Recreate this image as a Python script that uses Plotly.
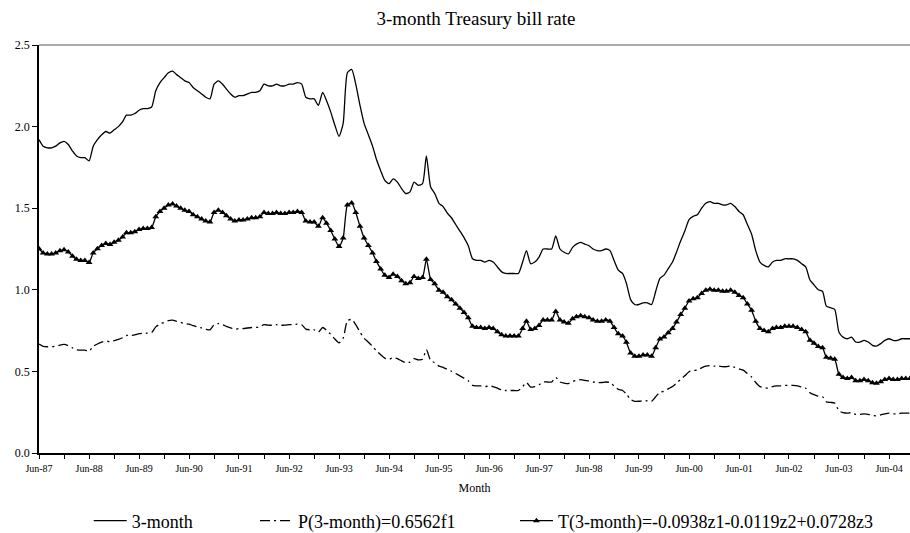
import pandas as pd
import plotly.graph_objects as go

# Monthly observations starting June 1987
start_month = "1987-06-01"

rate_3m = [
    1.92, 1.88, 1.87, 1.87, 1.88, 1.90, 1.91, 1.89, 1.85, 1.82, 1.81, 1.81,
    1.79, 1.88, 1.92, 1.95, 1.97, 1.96, 1.98, 2.00, 2.03, 2.07, 2.07, 2.08,
    2.10, 2.11, 2.11, 2.12, 2.22, 2.27, 2.30, 2.33, 2.34, 2.32, 2.30, 2.28,
    2.27, 2.24, 2.22, 2.20, 2.18, 2.17, 2.26, 2.28, 2.26, 2.23, 2.20, 2.18,
    2.19, 2.19, 2.20, 2.21, 2.21, 2.22, 2.26, 2.25, 2.25, 2.26, 2.25, 2.25,
    2.26, 2.26, 2.27, 2.26, 2.18, 2.17, 2.17, 2.13, 2.21, 2.16, 2.09, 2.01,
    1.94, 2.02, 2.33, 2.35, 2.26, 2.13, 2.02, 1.95, 1.88, 1.80, 1.73, 1.67,
    1.65, 1.68, 1.66, 1.62, 1.59, 1.60, 1.66, 1.64, 1.65, 1.82, 1.63, 1.59,
    1.53, 1.51, 1.47, 1.44, 1.40, 1.36, 1.32, 1.27, 1.19, 1.18, 1.18, 1.17,
    1.18, 1.17, 1.14, 1.11, 1.10, 1.10, 1.10, 1.10, 1.17, 1.24, 1.16, 1.17,
    1.20, 1.25, 1.25, 1.25, 1.33, 1.25, 1.23, 1.22, 1.26, 1.28, 1.29, 1.28,
    1.27, 1.25, 1.24, 1.24, 1.25, 1.24, 1.18, 1.12, 1.10, 1.04, 0.94, 0.91,
    0.91, 0.92, 0.92, 0.91, 0.99, 1.07, 1.09, 1.13, 1.17, 1.23, 1.30, 1.36,
    1.43, 1.45, 1.46, 1.50, 1.53, 1.54, 1.53, 1.53, 1.52, 1.52, 1.53, 1.51,
    1.48, 1.46, 1.40, 1.34, 1.24, 1.17, 1.15, 1.14, 1.17, 1.18, 1.18, 1.19,
    1.19, 1.19, 1.18, 1.16, 1.14, 1.06, 1.03, 1.00, 0.99, 0.90, 0.89, 0.88,
    0.74, 0.71, 0.70, 0.71, 0.68, 0.68, 0.69, 0.68, 0.66, 0.655, 0.67, 0.69,
    0.70, 0.69, 0.69, 0.70, 0.70, 0.70,
]

p_component = [
    0.668, 0.654, 0.651, 0.651, 0.654, 0.661, 0.665, 0.658, 0.644, 0.633, 0.630, 0.630,
    0.623, 0.654, 0.668, 0.679, 0.686, 0.682, 0.689, 0.696, 0.706, 0.720, 0.720, 0.724,
    0.731, 0.734, 0.734, 0.738, 0.773, 0.790, 0.800, 0.811, 0.814, 0.807, 0.800, 0.793,
    0.790, 0.780, 0.773, 0.766, 0.759, 0.755, 0.786, 0.793, 0.786, 0.776, 0.766, 0.759,
    0.762, 0.762, 0.766, 0.769, 0.769, 0.773, 0.786, 0.783, 0.783, 0.786, 0.783, 0.783,
    0.786, 0.786, 0.790, 0.786, 0.759, 0.755, 0.755, 0.741, 0.769, 0.752, 0.727, 0.699,
    0.675, 0.703, 0.811, 0.818, 0.786, 0.741, 0.703, 0.679, 0.654, 0.626, 0.602, 0.581,
    0.574, 0.585, 0.578, 0.564, 0.553, 0.557, 0.578, 0.571, 0.574, 0.633, 0.567, 0.553,
    0.532, 0.525, 0.512, 0.501, 0.487, 0.473, 0.459, 0.442, 0.414, 0.411, 0.411, 0.407,
    0.411, 0.407, 0.397, 0.386, 0.383, 0.383, 0.383, 0.383, 0.407, 0.432, 0.404, 0.407,
    0.418, 0.435, 0.435, 0.435, 0.463, 0.435, 0.428, 0.425, 0.438, 0.445, 0.449, 0.445,
    0.442, 0.435, 0.432, 0.432, 0.435, 0.432, 0.411, 0.390, 0.383, 0.362, 0.327, 0.317,
    0.317, 0.320, 0.320, 0.317, 0.345, 0.372, 0.379, 0.393, 0.407, 0.428, 0.452, 0.473,
    0.498, 0.505, 0.508, 0.522, 0.532, 0.536, 0.532, 0.532, 0.529, 0.529, 0.532, 0.525,
    0.515, 0.508, 0.487, 0.466, 0.432, 0.407, 0.400, 0.397, 0.407, 0.411, 0.411, 0.414,
    0.414, 0.414, 0.411, 0.404, 0.397, 0.369, 0.358, 0.348, 0.345, 0.313, 0.310, 0.306,
    0.258, 0.247, 0.244, 0.247, 0.237, 0.237, 0.240, 0.237, 0.230, 0.228, 0.233, 0.240,
    0.244, 0.240, 0.240, 0.244, 0.244, 0.244,
]

t_component = [
    1.252, 1.226, 1.219, 1.219, 1.226, 1.239, 1.245, 1.232, 1.206, 1.187, 1.180, 1.180,
    1.167, 1.226, 1.252, 1.271, 1.284, 1.278, 1.291, 1.304, 1.324, 1.350, 1.350, 1.356,
    1.369, 1.376, 1.376, 1.382, 1.447, 1.480, 1.500, 1.519, 1.526, 1.513, 1.500, 1.487,
    1.480, 1.460, 1.447, 1.434, 1.421, 1.415, 1.474, 1.487, 1.474, 1.454, 1.434, 1.421,
    1.428, 1.428, 1.434, 1.441, 1.441, 1.447, 1.474, 1.467, 1.467, 1.474, 1.467, 1.467,
    1.474, 1.474, 1.480, 1.474, 1.421, 1.415, 1.415, 1.389, 1.441, 1.408, 1.363, 1.311,
    1.265, 1.317, 1.519, 1.532, 1.474, 1.389, 1.317, 1.271, 1.226, 1.174, 1.128, 1.089,
    1.076, 1.095, 1.082, 1.056, 1.037, 1.043, 1.082, 1.069, 1.076, 1.187, 1.063, 1.037,
    0.998, 0.985, 0.958, 0.939, 0.913, 0.887, 0.861, 0.828, 0.776, 0.769, 0.769, 0.763,
    0.769, 0.763, 0.743, 0.724, 0.717, 0.717, 0.717, 0.717, 0.763, 0.808, 0.756, 0.763,
    0.782, 0.815, 0.815, 0.815, 0.867, 0.815, 0.802, 0.795, 0.822, 0.835, 0.841, 0.835,
    0.828, 0.815, 0.808, 0.808, 0.815, 0.808, 0.769, 0.730, 0.717, 0.678, 0.613, 0.593,
    0.593, 0.600, 0.600, 0.593, 0.645, 0.698, 0.711, 0.737, 0.763, 0.802, 0.848, 0.887,
    0.932, 0.945, 0.952, 0.978, 0.998, 1.004, 0.998, 0.998, 0.991, 0.991, 0.998, 0.985,
    0.965, 0.952, 0.913, 0.874, 0.808, 0.763, 0.750, 0.743, 0.763, 0.769, 0.769, 0.776,
    0.776, 0.776, 0.769, 0.756, 0.743, 0.691, 0.672, 0.652, 0.645, 0.587, 0.580, 0.574,
    0.482, 0.463, 0.456, 0.463, 0.443, 0.443, 0.450, 0.443, 0.430, 0.427, 0.437, 0.450,
    0.456, 0.450, 0.450, 0.456, 0.456, 0.456,
]

series_names = [
    "3-month",
    "P(3-month)=0.6562f1",
    "T(3-month)=-0.0938z1-0.0119z2+0.0728z3",
]

y_ticks = [0.0, 0.5, 1.0, 1.5, 2.0, 2.5]

months = pd.date_range(start_month, periods=len(rate_3m), freq="MS")

# Ticks every six months; only the June ticks carry a label
tick_dates = [d for d in months if d.month in (6, 12)]
tick_text = [d.strftime("%b-%y") if d.month == 6 else "" for d in tick_dates]

SERIF = "Liberation Serif, Times New Roman, serif"

fig = go.Figure()

fig.add_trace(go.Scatter(
    x=months, y=rate_3m, name=series_names[0], mode="lines",
    line=dict(color="black", width=1.3, shape="spline", smoothing=0.6),
    legend="legend", showlegend=True,
))
fig.add_trace(go.Scatter(
    x=months, y=p_component, name=series_names[1], mode="lines",
    line=dict(color="black", width=1.3, shape="spline", smoothing=0.6,
              dash="10px,4px,2px,4px"),
    legend="legend2", showlegend=True,
))
fig.add_trace(go.Scatter(
    x=months, y=t_component, name=series_names[2], mode="lines+markers",
    line=dict(color="black", width=1.3, shape="spline", smoothing=0.6),
    marker=dict(symbol="triangle-up", size=6, color="black"),
    legend="legend3", showlegend=True,
))

# Legends are placed in container coordinates so they don't push the plot margins
legend_common = dict(
    orientation="h", yanchor="middle", xanchor="left",
    xref="container", yref="container", y=0.0225,
    font=dict(family=SERIF, size=18, color="black"),
    bgcolor="rgba(0,0,0,0)", itemwidth=33, borderwidth=0,
)

fig.update_layout(
    width=910, height=533,
    margin=dict(l=39, r=0, t=45, b=80, autoexpand=False),
    paper_bgcolor="white", plot_bgcolor="white",
    showlegend=True,
    title=dict(text="3-month Treasury bill rate", x=0.523, xanchor="center",
               y=0.966, yanchor="middle",
               font=dict(family=SERIF, size=19, color="black")),
    legend=dict(legend_common, x=0.0975),
    legend2=dict(legend_common, x=0.2802),
    legend3=dict(legend_common, x=0.5659),
    xaxis=dict(
        range=[months[0], months[-1]],
        tickmode="array", tickvals=tick_dates, ticktext=tick_text,
        ticks="outside", ticklen=4, tickcolor="black", tickwidth=1,
        ticklabelstandoff=1, automargin=False,
        showline=True, linecolor="black", linewidth=1.5,
        showgrid=False, zeroline=False,
        tickfont=dict(family=SERIF, size=10, color="black"),
        title=dict(text="Month", font=dict(family=SERIF, size=12, color="black"),
                   standoff=11),
    ),
    yaxis=dict(
        range=[0, 2.5], tickmode="array", tickvals=y_ticks,
        tickformat=".1f", automargin=False,
        ticks="outside", ticklen=5, tickcolor="black", tickwidth=1,
        showline=True, linecolor="black", linewidth=1.5,
        showgrid=False, zeroline=False,
        tickfont=dict(family=SERIF, size=12, color="black"),
    ),
    shapes=[dict(type="line", xref="paper", yref="paper", x0=0, x1=1, y0=1, y1=1,
                 line=dict(color="#555555", width=1.2))],
)

fig.write_html("out.html")
